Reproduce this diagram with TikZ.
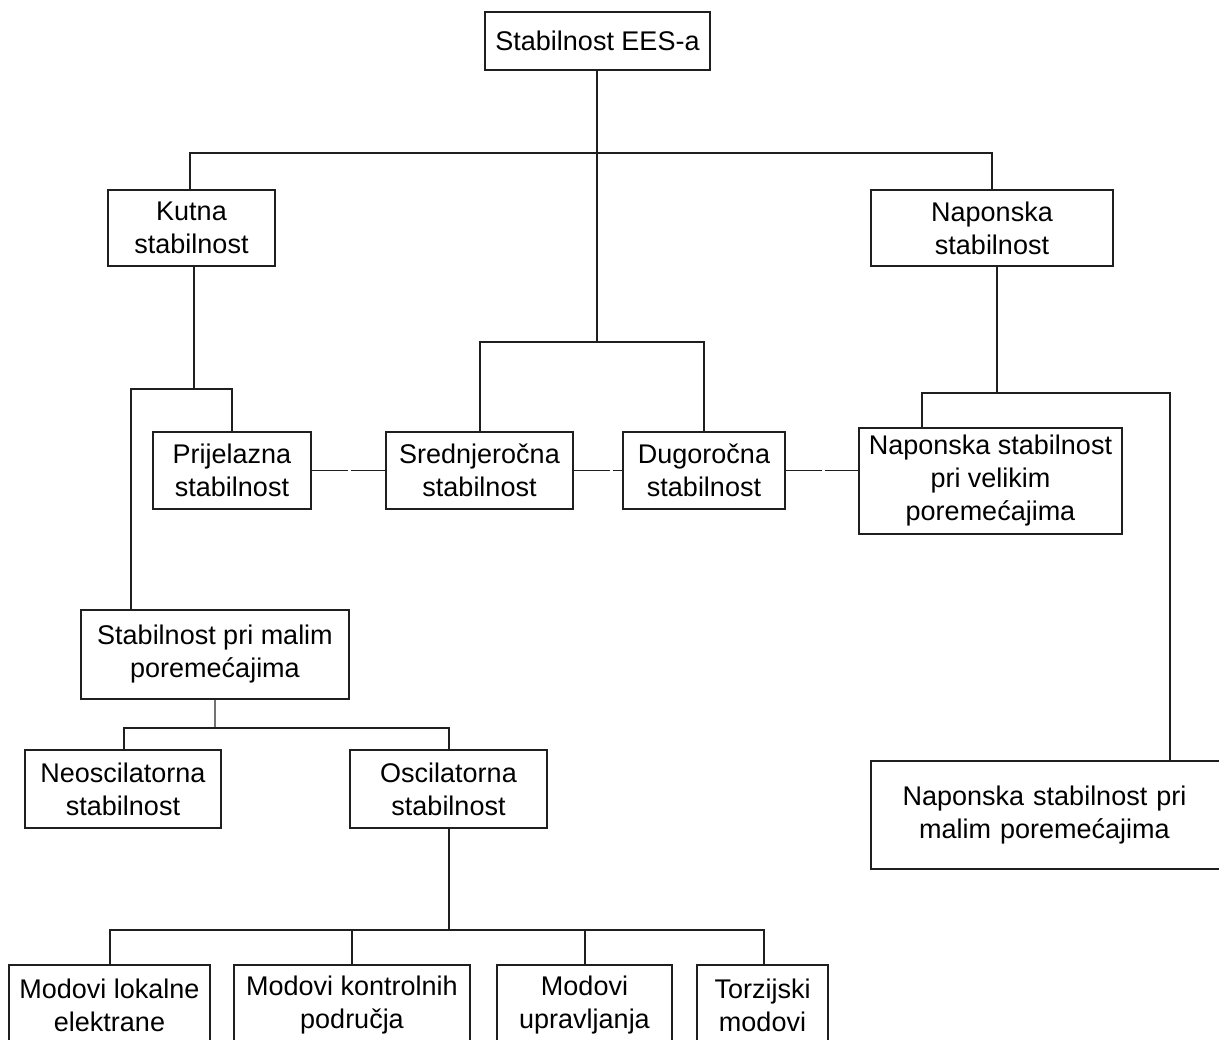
\documentclass[tikz,border=0pt]{standalone}
\usepackage{fontspec}
\setmainfont{Liberation Sans}
\begin{document}
\begin{tikzpicture}[x=1pt,y=-1pt,
  box/.style={draw=black!88, line width=2pt, align=center, inner sep=0pt,
    font=\fontsize{27}{33}\selectfont},
  conn/.style={draw=black!88, line width=1.8pt},
  brk/.style={draw=black!88, line width=1.8pt, dash pattern={on 36pt off 3pt}}]
\useasboundingbox (0,0) rectangle (1219,1040);
\clip (0,0) rectangle (1219,1040);
% boxes
\node[box, minimum width=225pt, minimum height=58pt] (top) at (597.5,41) {Stabilnost EES-a};
\node[box, minimum width=167pt, minimum height=76pt] (kutna) at (191.5,228) {Kutna\\stabilnost};
\node[box, minimum width=242pt, minimum height=76pt] (napon) at (992,228) {Naponska\\stabilnost};
\node[box, minimum width=158pt, minimum height=77pt] (prij) at (232,470.5) {Prijelazna\\stabilnost};
\node[box, minimum width=187pt, minimum height=77pt] (sred) at (479.5,470.5) {Srednjeročna\\stabilnost};
\node[box, minimum width=162pt, minimum height=77pt] (dugo) at (704,470.5) {Dugoročna\\stabilnost};
\node[box, minimum width=263pt, minimum height=106pt] (nvel) at (990.5,481) {Naponska stabilnost\\pri velikim\\poremećajima};
\node[box, minimum width=268pt, minimum height=89pt] (malim) at (215,654.5) {Stabilnost pri malim\\poremećajima};
\node[box, minimum width=196pt, minimum height=78pt] (neosc) at (123,789) {Neoscilatorna\\stabilnost};
\node[box, minimum width=197pt, minimum height=78pt] (osc) at (448.5,789) {Oscilatorna\\stabilnost};
\node[box, minimum width=360pt, minimum height=108pt, text width=347pt] (nmal) at (1051,815) {\hspace*{-13pt}Naponska stabilnost pri\\\hspace*{-13pt}malim poremećajima};
\node[box, minimum width=201pt, minimum height=80pt] (m1) at (109.5,1005) {Modovi lokalne\\elektrane};
\node[box, minimum width=236pt, minimum height=80pt] (m2) at (352,1005) {Modovi kontrolnih\\područja};
\node[box, minimum width=175pt, minimum height=80pt] (m3) at (584.5,1005) {Modovi\\upravljanja};
\node[box, minimum width=131pt, minimum height=80pt] (m4) at (762.5,1005) {Torzijski\\modovi};
% junction coordinates
\coordinate (j1) at (597,153);
\coordinate (j2) at (597,342);
\coordinate (j3) at (194,389);
\coordinate (j4) at (997,393);
\coordinate (j5) at (215,728);
\coordinate (j6) at (449,930);
% top level
\draw[conn] (top.south -| j1) -- (j1);
\draw[conn] (j1) -- (190,153) -- (kutna.north -| 190,0);
\draw[conn] (j1) -- (992,153) -- (napon.north);
\draw[conn] (j1) -- (j2);
\draw[conn] (j2) -- (480,342) -- (sred.north -| 480,0);
\draw[conn] (j2) -- (704,342) -- (dugo.north);
% kutna branch
\draw[conn] (kutna.south -| j3) -- (j3);
\draw[conn] (j3) -- (232,389) -- (prij.north);
\draw[conn] (j3) -- (131,389) -- (malim.north -| 131,0);
% naponska branch
\draw[conn] (napon.south -| j4) -- (j4);
\draw[conn] (j4) -- (922,393) -- (nvel.north -| 922,0);
\draw[conn] (j4) -- (1170,393) -- (nmal.north -| 1170,0);
% small disturbance branch
\draw[conn, draw=black!55] (malim.south -| j5) -- (j5);
\draw[conn] (j5) -- (124,728) -- (neosc.north -| 124,0);
\draw[conn] (j5) -- (449,728) -- (osc.north -| 449,0);
% oscillatory modes
\draw[conn] (osc.south -| j6) -- (j6);
\draw[conn] (j6) -- (110,930) -- (m1.north -| 110,0);
\draw[conn] (j6) -- (352,930) -- (m2.north);
\draw[conn] (j6) -- (585,930) -- (m3.north -| 585,0);
\draw[conn] (j6) -- (764,930) -- (m4.north -| 764,0);
% time-frame links
\draw[brk] (prij.east) -- (sred.west);
\draw[brk] (sred.east) -- (dugo.west);
\draw[brk] (dugo.east) -- (nvel.west |- dugo.east);
\end{tikzpicture}
\end{document}
